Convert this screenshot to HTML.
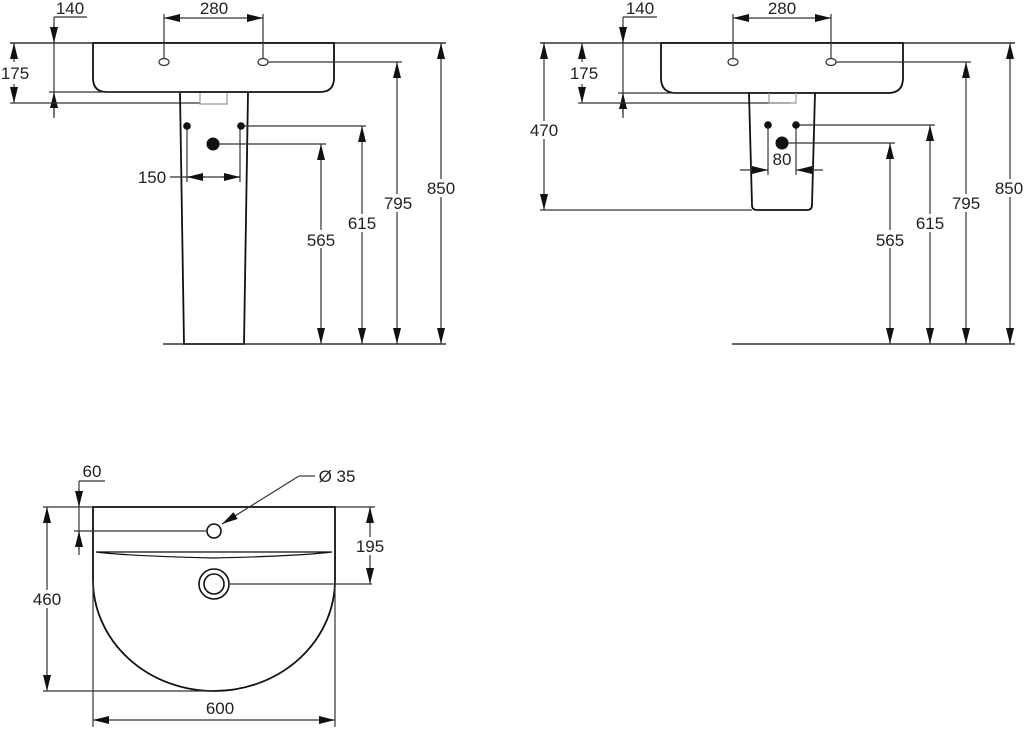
<!DOCTYPE html>
<html><head><style>body{margin:0;background:#fff}svg{display:block}text{font-family:"Liberation Sans",sans-serif;font-size:17px;fill:#222}</style></head><body>
<svg width="1024" height="730" viewBox="0 0 1024 730" xmlns="http://www.w3.org/2000/svg">
<defs>
<marker id="a" viewBox="0 0 16 8" refX="16" refY="4" markerWidth="16" markerHeight="8" markerUnits="userSpaceOnUse" orient="auto-start-reverse"><path d="M0,0L16,4L0,8z" fill="#111"/></marker>
</defs>
<g stroke="#333" stroke-width="1.2" fill="none">
<!-- Panel 1 -->
<line x1="10" y1="43" x2="446" y2="43" stroke-width="1.6"/>
<path d="M93,43 H334 V78 Q334,92 320,92 H107 Q93,92 93,78 Z" stroke="#111" stroke-width="1.8" fill="#fff"/>
<line x1="54" y1="17" x2="87" y2="17"/>
<line x1="54" y1="17" x2="54" y2="118"/>
<path d="M54,25 V43" marker-end="url(#a)"/>
<path d="M54,115 V92" marker-end="url(#a)"/>
<line x1="49" y1="92" x2="180" y2="92"/>
<line x1="10" y1="103" x2="200" y2="103"/>
<path d="M14,43 V62" marker-start="url(#a)"/>
<path d="M14,84 V103" marker-end="url(#a)"/>
<line x1="164" y1="14" x2="164" y2="58"/><line x1="263" y1="14" x2="263" y2="58"/>
<path d="M164,18 H263" marker-start="url(#a)" marker-end="url(#a)"/>
<ellipse cx="164" cy="62" rx="5" ry="3.5"/><ellipse cx="263" cy="62" rx="5" ry="3.5"/>
<line x1="268" y1="62" x2="402" y2="62"/>
<path d="M180,93 L184,344 H244 L248,93" stroke="#111" stroke-width="1.8"/>
<path d="M200,93 V104 H227 V93" stroke="#999"/>
<line x1="241" y1="126" x2="366" y2="126"/>
<line x1="213" y1="144" x2="326" y2="144"/>
<line x1="187" y1="126" x2="187" y2="182"/><line x1="240" y1="126" x2="240" y2="182"/>
<line x1="170" y1="177" x2="240" y2="177"/>
<path d="M205,177 H187" marker-end="url(#a)"/>
<path d="M222,177 H240" marker-end="url(#a)"/>
<line x1="163" y1="344" x2="446" y2="344" stroke-width="1.6"/>
<path d="M321,144 V344" marker-start="url(#a)" marker-end="url(#a)"/>
<path d="M362,126 V344" marker-start="url(#a)" marker-end="url(#a)"/>
<path d="M397,62 V344" marker-start="url(#a)" marker-end="url(#a)"/>
<path d="M441,43 V344" marker-start="url(#a)" marker-end="url(#a)"/>
<!-- Panel 2 -->
<line x1="540" y1="43" x2="1015" y2="43" stroke-width="1.6"/>
<path d="M661,43 H903 V78 Q903,93 888,93 H676 Q661,93 661,78 Z" stroke="#111" stroke-width="1.8" fill="#fff"/>
<line x1="623" y1="17" x2="657" y2="17"/>
<line x1="623" y1="17" x2="623" y2="118"/>
<path d="M623,25 V43" marker-end="url(#a)"/>
<path d="M623,115 V93" marker-end="url(#a)"/>
<line x1="618" y1="93" x2="748" y2="93"/>
<line x1="578" y1="103" x2="790" y2="103"/>
<path d="M582,43 V62" marker-start="url(#a)"/>
<path d="M582,84 V103" marker-end="url(#a)"/>
<line x1="733" y1="14" x2="733" y2="58"/><line x1="831" y1="14" x2="831" y2="58"/>
<path d="M733,18 H831" marker-start="url(#a)" marker-end="url(#a)"/>
<ellipse cx="733" cy="62" rx="5" ry="3.5"/><ellipse cx="831" cy="62" rx="5" ry="3.5"/>
<line x1="836" y1="62" x2="971" y2="62"/>
<path d="M749,93 L752,205 Q752,210 757,210 H807 Q812,210 812,205 L815,93" stroke="#111" stroke-width="1.8"/>
<path d="M769,93 V103 H796 V93" stroke="#999"/>
<path d="M544,43 V210" marker-start="url(#a)" marker-end="url(#a)"/>
<line x1="540" y1="210" x2="752" y2="210"/>
<line x1="796" y1="125" x2="935" y2="125"/>
<line x1="782" y1="143" x2="895" y2="143"/>
<line x1="768" y1="125" x2="768" y2="175"/><line x1="796" y1="125" x2="796" y2="175"/>
<path d="M740,170 H768" marker-end="url(#a)"/>
<path d="M823,170 H796" marker-end="url(#a)"/>
<line x1="732" y1="344" x2="1015" y2="344" stroke-width="1.6"/>
<path d="M890,143 V344" marker-start="url(#a)" marker-end="url(#a)"/>
<path d="M930,125 V344" marker-start="url(#a)" marker-end="url(#a)"/>
<path d="M966,62 V344" marker-start="url(#a)" marker-end="url(#a)"/>
<path d="M1010,43 V344" marker-start="url(#a)" marker-end="url(#a)"/>
<!-- Panel 3 -->
<line x1="43" y1="507" x2="375" y2="507"/>
<path d="M93,507 H335 V580 A121,111 0 0 1 93,580 Z" stroke="#111" stroke-width="1.8" fill="#fff"/>
<path d="M96,552 H332 Q300,556 214,558 Q128,556 96,552" stroke="#111"/>
<circle cx="214" cy="531" r="7" stroke="#111" stroke-width="1.6"/>
<line x1="74" y1="531" x2="207" y2="531"/>
<line x1="79" y1="481" x2="105" y2="481"/>
<line x1="79" y1="481" x2="79" y2="555"/>
<path d="M79,489 V507" marker-end="url(#a)"/>
<path d="M79,550 V531" marker-end="url(#a)"/>
<path d="M299,476 L222,524" marker-end="url(#a)"/>
<line x1="299" y1="476" x2="315" y2="476"/>
<circle cx="214" cy="584" r="15" stroke="#111" stroke-width="1.6"/>
<circle cx="214" cy="584" r="10" stroke="#111" stroke-width="1.6"/>
<line x1="229" y1="584" x2="372" y2="584"/>
<path d="M370,507 V584" marker-start="url(#a)" marker-end="url(#a)"/>
<path d="M47,507 V691" marker-start="url(#a)" marker-end="url(#a)"/>
<line x1="43" y1="691" x2="214" y2="691"/>
<line x1="93" y1="580" x2="93" y2="727"/><line x1="335" y1="580" x2="335" y2="727"/>
<path d="M93,720 H335" marker-start="url(#a)" marker-end="url(#a)"/>
</g>
<g fill="#111" stroke="none">
<circle cx="187" cy="126" r="3.8"/><circle cx="241" cy="126" r="3.8"/><circle cx="213" cy="144" r="6.5"/>
<circle cx="768" cy="125" r="3.8"/><circle cx="796" cy="125" r="3.8"/><circle cx="782" cy="143" r="6.5"/>
</g>
<g text-anchor="middle">
<text x="70" y="14">140</text>
<text x="214" y="14">280</text>
<rect x="0" y="64" width="30" height="18" fill="#fff"/><text x="15" y="79">175</text>
<text x="152" y="183">150</text>
<rect x="305" y="230" width="32" height="18" fill="#fff"/><text x="321" y="246">565</text>
<rect x="346" y="214" width="32" height="18" fill="#fff"/><text x="362" y="229">615</text>
<rect x="381" y="194" width="32" height="18" fill="#fff"/><text x="398" y="209">795</text>
<rect x="425" y="179" width="32" height="18" fill="#fff"/><text x="441" y="194">850</text>

<text x="640" y="14">140</text>
<text x="782" y="14">280</text>
<rect x="568" y="64" width="30" height="18" fill="#fff"/><text x="584" y="79">175</text>
<rect x="528" y="121" width="32" height="18" fill="#fff"/><text x="544" y="136">470</text>
<text x="782" y="165">80</text>
<rect x="874" y="230" width="32" height="18" fill="#fff"/><text x="890" y="246">565</text>
<rect x="914" y="214" width="32" height="18" fill="#fff"/><text x="930" y="229">615</text>
<rect x="950" y="194" width="32" height="18" fill="#fff"/><text x="966" y="209">795</text>
<rect x="994" y="179" width="30" height="18" fill="#fff"/><text x="1009" y="194">850</text>

<text x="92" y="477">60</text>
<text x="337" y="482">Ø 35</text>
<rect x="354" y="537" width="32" height="18" fill="#fff"/><text x="370" y="552">195</text>
<rect x="31" y="590" width="32" height="18" fill="#fff"/><text x="47" y="605">460</text>
<text x="220" y="714">600</text>
</g>
</svg>
</body></html>
